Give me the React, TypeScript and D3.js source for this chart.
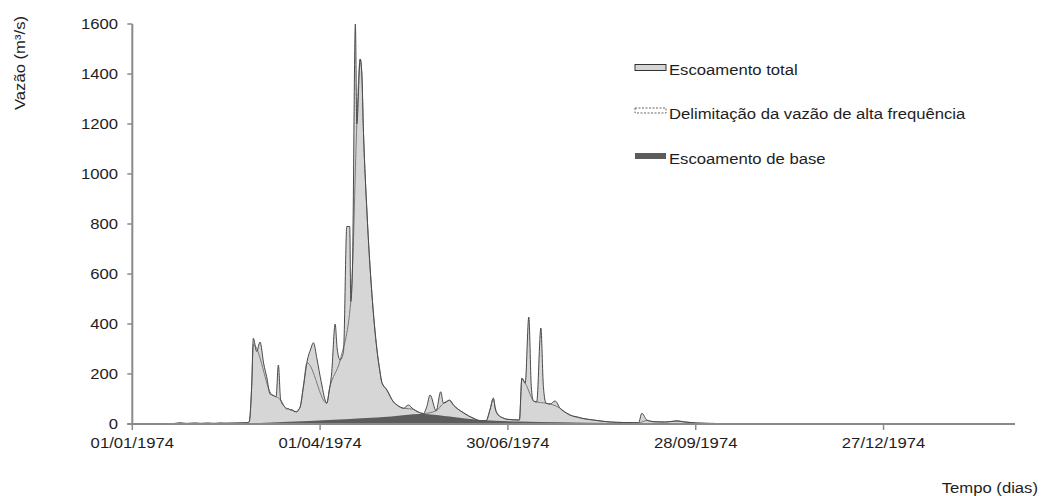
import React from 'react';
import * as d3 from 'd3';

type Pt = [number, number];

// x: days since 01/01/1974 ; y: discharge (m³/s)
const X_TICK_DAYS = [0, 90, 180, 270, 360];
const X_TICK_LABELS = ['01/01/1974', '01/04/1974', '30/06/1974', '28/09/1974', '27/12/1974'];
const Y_TICKS = [0, 200, 400, 600, 800, 1000, 1200, 1400, 1600];
const LEGEND_LABELS = ['Escoamento total', 'Delimitação da vazão de alta frequência', 'Escoamento de base'];

const totalFlow: Pt[] = [
  [0, 0], [10, 1], [20, 2], [23, 5], [26, 2], [30, 4], [33, 2], [36, 4], [39, 2], [42, 4], [45, 3], [50, 4],
  [55, 5], [56, 8], [57.2, 150], [58, 343], [59.6, 290], [61.2, 328], [63, 240], [64.4, 189], [66, 120],
  [67.5, 115], [68.9, 109], [70, 236], [71.1, 96], [73.2, 67], [74, 60], [74.8, 62], [75.6, 56], [76.5, 58],
  [77.5, 50], [78.8, 49], [79.6, 58], [80.4, 67], [82, 150], [83.9, 256], [85.5, 300], [86.8, 325],
  [88.5, 260], [90.5, 170], [93.2, 83], [94.4, 136], [95.5, 200], [97.2, 400], [98.2, 300], [99.6, 256],
  [101.2, 290], [102.8, 790], [104.2, 790], [104.7, 490], [105.5, 620], [106.9, 1600], [107.6, 1200],
  [109.2, 1460], [110, 1400], [110.7, 1190], [112.4, 856], [114.8, 523], [117.2, 300], [118.7, 209],
  [119.5, 169], [122, 136], [125.1, 89], [127, 75], [130, 63], [132.3, 76], [134.7, 59], [137, 48],
  [139.5, 42], [141.1, 69], [142.7, 116], [145.6, 53], [147.8, 129], [149.1, 83], [150.5, 88], [152, 96],
  [154, 75], [156, 60], [158.7, 45], [161, 33], [163.5, 23], [166.7, 13], [169.5, 13], [171.5, 60],
  [173, 103], [174, 60], [175.4, 36], [177.5, 25], [179.5, 19], [185.5, 16], [186.7, 183], [188.3, 163],
  [190, 428], [191.2, 150], [192.2, 92], [193.8, 88], [195.8, 384], [197, 150], [198.3, 83], [200.2, 80],
  [202.6, 92], [205, 63], [208.2, 43], [211, 32], [213, 29], [216, 22], [221, 16], [229, 8], [235, 6],
  [242.6, 5], [244.2, 43], [246.6, 16], [250, 9], [255, 8], [258, 10], [261, 13], [264, 9], [270.6, 4],
  [280, 2], [295, 1], [300, 0.5], [335, 0.5], [336, 2], [337, 0.5], [423, 0.5],
];

const highFreqLimit: Pt[] = [
  [0, 0], [10, 1], [20, 2], [30, 3], [40, 3], [50, 4], [55, 5], [56, 8], [57.2, 150], [58, 318], [67, 116],
  [68.9, 109], [71.1, 96], [73.2, 67], [74.8, 60], [77.5, 52], [78.8, 49], [80.4, 67], [82, 150],
  [83.7, 245], [93.2, 83], [94.4, 136], [99.6, 256], [104.7, 490], [105.5, 620], [107.6, 1200],
  [109.2, 1460], [110, 1400], [110.7, 1190], [112.4, 856], [114.8, 523], [117.2, 300], [118.7, 209],
  [119.5, 169], [122, 136], [125.1, 89], [127, 75], [130, 63], [134.7, 59], [137, 48], [139.5, 42],
  [145.6, 53], [149.1, 83], [152, 94], [154, 75], [156, 60], [158.7, 45], [161, 33], [163.5, 23],
  [166.7, 13], [169.5, 13], [171.5, 60], [173, 103], [174, 60], [175.4, 36], [177.5, 25], [179.5, 19],
  [185.5, 16], [186.7, 183], [188.3, 163], [192.8, 90], [198.3, 83], [200.2, 80], [205, 63], [208.2, 43],
  [211, 32], [216, 22], [221, 16], [229, 8], [242.6, 5], [246.6, 14], [250, 9], [255, 8], [261, 11],
  [264, 9], [270.6, 4], [280, 2], [295, 1], [423, 0.5],
];

const baseFlow: Pt[] = [
  [0, 0], [20, 0.5], [47, 1], [57, 3], [75, 9], [94, 16], [110, 23], [124, 30], [138, 40], [142, 39],
  [152, 30], [167, 16], [186, 10], [205, 7], [230, 4], [260, 2], [300, 0.5], [423, 0.3],
];

const FONT = '"Liberation Sans", Arial, Helvetica, sans-serif';
const SX = 1.15;

export default function App() {
  const W = 1041;
  const H = 496;
  const x = d3.scaleLinear().domain([0, 423]).range([132.3, 1015]);
  const y = d3.scaleLinear().domain([0, 1600]).range([424, 24]);

  const curve = d3.curveMonotoneX;
  const area = d3.area<Pt>().x((d) => x(d[0])).y0(y(0)).y1((d) => y(d[1])).curve(curve);
  const line = d3.line<Pt>().x((d) => x(d[0])).y((d) => y(d[1])).curve(curve);

  const axisColor = '#8a8a8a';
  const textColor = '#1e1e1e';
  const legendX = 635;
  const legendTops = [64.5, 108, 153];

  return (
    <svg
      width={W}
      height={H}
      viewBox={`0 0 ${W} ${H}`}
      style={{ position: 'absolute', left: 0, top: 0, background: '#fff', fontFamily: FONT }}
    >
      <rect x={0} y={0} width={W} height={H} fill="#fff" />

      {/* series */}
      <path d={area(totalFlow) || ''} fill="#d6d6d6" stroke="none" />
      <path d={area(baseFlow) || ''} fill="#5c5c5c" stroke="none" />
      <path d={line(highFreqLimit) || ''} fill="none" stroke="#7a7a7a" strokeWidth={1} />
      <path d={line(totalFlow) || ''} fill="none" stroke="#4a4a4a" strokeWidth={1} strokeLinejoin="round" />

      {/* y axis */}
      <line x1={x(0)} x2={x(0)} y1={y(1600)} y2={y(0) + 1} stroke={axisColor} strokeWidth={2} />
      {Y_TICKS.map((t) => (
        <g key={t}>
          <line x1={x(0) - 5} x2={x(0)} y1={y(t)} y2={y(t)} stroke={axisColor} strokeWidth={1.5} />
          <text
            transform={`translate(118,${y(t) + 5}) scale(${SX},1)`}
            textAnchor="end"
            fontSize={14.5}
            fill={textColor}
          >
            {t}
          </text>
        </g>
      ))}

      {/* x axis */}
      <line x1={x(0) - 5} x2={x(423)} y1={y(0)} y2={y(0)} stroke={axisColor} strokeWidth={2} />
      {X_TICK_DAYS.map((d, i) => (
        <g key={d}>
          <line x1={x(d)} x2={x(d)} y1={y(0)} y2={y(0) + 6} stroke={axisColor} strokeWidth={1.5} />
          <text
            transform={`translate(${x(d)},${448}) scale(${SX},1)`}
            textAnchor="middle"
            fontSize={14.5}
            fill={textColor}
          >
            {X_TICK_LABELS[i]}
          </text>
        </g>
      ))}

      {/* axis titles */}
      <text
        transform={`translate(25,63) rotate(-90) scale(${SX},1)`}
        textAnchor="middle"
        fontSize={14.5}
        fill={textColor}
      >
        Vazão (m³/s)
      </text>
      <text
        transform={`translate(1038,493) scale(${SX},1)`}
        textAnchor="end"
        fontSize={14.5}
        fill={textColor}
      >
        Tempo (dias)
      </text>

      {/* legend */}
      <rect x={legendX} y={legendTops[0]} width={31} height={6} fill="#d6d6d6" stroke="#333" strokeWidth={1} />
      <rect
        x={legendX}
        y={legendTops[1]}
        width={31}
        height={5}
        fill="#fff"
        stroke="#666"
        strokeWidth={1}
        strokeDasharray="2,1.5"
      />
      <rect x={legendX} y={legendTops[2]} width={31} height={6} fill="#5c5c5c" stroke="none" />
      {LEGEND_LABELS.map((l, i) => (
        <text
          key={l}
          transform={`translate(669,${legendTops[i] + 10.5}) scale(${SX},1)`}
          fontSize={14.5}
          fill={textColor}
        >
          {l}
        </text>
      ))}
    </svg>
  );
}
